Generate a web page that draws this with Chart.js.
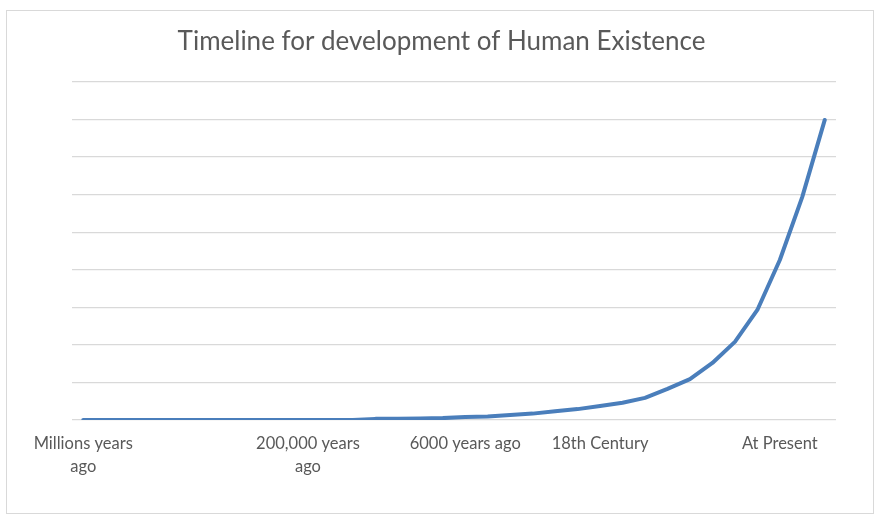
<!DOCTYPE html>
<html>
<head>
<meta charset="utf-8">
<script src="https://cdn.jsdelivr.net/npm/chart.js@4"></script>
<style>
  html, body { margin: 0; padding: 0; background: #ffffff; }
  #wrap { position: relative; width: 886px; height: 523px; }
  #frame { position: absolute; left: 6px; top: 10px; width: 866px; height: 502px; border: 1px solid #d9d9d9; box-sizing: content-box; pointer-events: none; }
  canvas { position: absolute; left: 0; top: 0; }
</style>
</head>
<body>
<div id="wrap">
  <canvas id="c" width="886" height="523"></canvas>
  <div id="frame"></div>
</div>
<script>
const titleText = 'Timeline for development of Human Existence';

const categories = [
  ['Millions years', 'ago'], '', '', '', '', '', '', '', '', '',
  ['200,000 years', 'ago'], '', '', '', '', '', '',
  '6000 years ago', '', '', '', '', '',
  '18th Century', '', '', '', '', '', '', '',
  'At Present', '', ''
];

const existence = [
  0, 0, 0, 0, 0, 0, 0, 0, 0, 0,
  0, 0, 0, 0.03, 0.03, 0.04, 0.05,
  0.08, 0.09, 0.13, 0.17, 0.23, 0.29,
  0.37, 0.46, 0.59, 0.83, 1.09, 1.52, 2.08,
  2.93, 4.26, 5.94, 7.99
];

const yMin = 0, yMax = 9, yStep = 1;

new Chart(document.getElementById('c'), {
  type: 'line',
  data: {
    labels: categories,
    datasets: [{
      data: existence,
      borderColor: '#4a7ebb',
      borderWidth: 4,
      pointRadius: 0,
      tension: 0,
      fill: false,
      borderCapStyle: 'round',
      borderJoinStyle: 'round'
    }]
  },
  options: {
    responsive: false,
    animation: false,
    layout: { padding: { left: 0, right: 3, top: 0, bottom: 0 } },
    plugins: {
      legend: { display: false },
      tooltip: { enabled: false },
      title: {
        display: true,
        text: titleText,
        color: '#595959',
        font: { family: 'Lato', size: 26, weight: 'normal', lineHeight: 1.2 },
        padding: { top: 26, bottom: 24.8 }
      }
    },
    scales: {
      x: {
        offset: true,
        grid: { display: false, offset: true },
        border: { display: false },
        ticks: {
          autoSkip: false,
          maxRotation: 0,
          minRotation: 0,
          color: '#595959',
          font: { family: 'Lato', size: 16.5, lineHeight: 1.4 },
          padding: 4
        },
        afterFit: (s) => { s.height = 103; }
      },
      y: {
        min: yMin,
        max: yMax,
        ticks: { display: false, stepSize: yStep },
        grid: { color: '#d9d9d9', lineWidth: 1.3, drawTicks: false },
        border: { display: false },
        afterFit: (s) => { s.width = 72; }
      },
      yRight: {
        position: 'right',
        min: yMin,
        max: yMax,
        ticks: { display: false },
        grid: { display: false },
        border: { display: false },
        afterFit: (s) => { s.width = 47; }
      }
    }
  }
});
</script>
</body>
</html>
